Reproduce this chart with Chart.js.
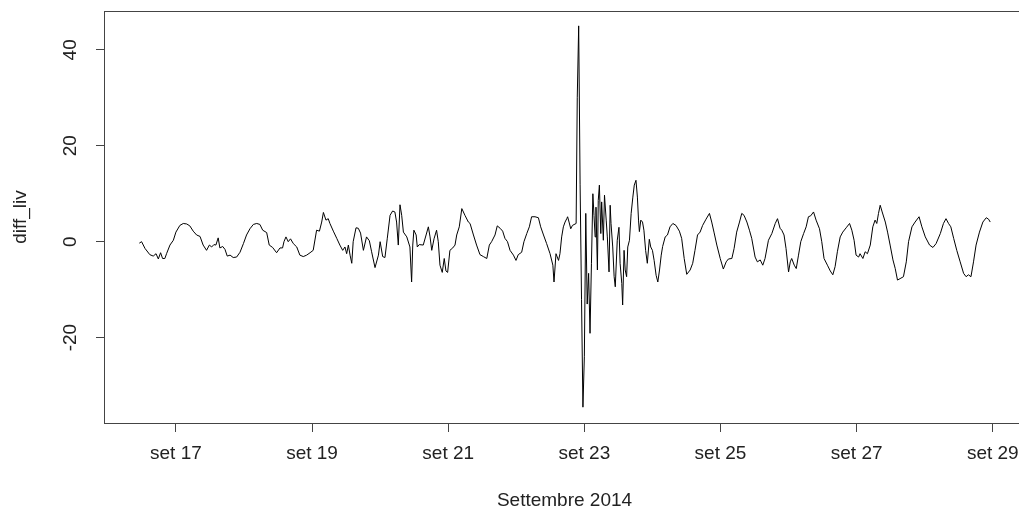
<!DOCTYPE html>
<html><head><meta charset="utf-8">
<script src="https://cdn.jsdelivr.net/npm/chart.js@4.4.1/dist/chart.umd.min.js"></script>
<style>
html,body{margin:0;padding:0;background:#fff;overflow:hidden;}
#wrap{width:1040px;height:512px;}
</style></head><body>
<div id="wrap"><canvas id="c" width="1040" height="512"></canvas></div>
<script>
// hours since 16 Sep 2014 00:00
const hours = [11.1,11.9,13.1,14.8,16.0,17.0,17.8,18.6,19.3,20.1,20.7,21.9,23.1,24.0,25.4,26.6,27.8,28.9,30.1,31.3,32.5,33.6,34.8,35.8,36.6,37.4,38.1,38.9,39.5,40.5,41.3,42.1,43.1,44.2,45.4,46.6,47.8,48.9,50.1,51.3,52.5,53.6,54.6,56.0,56.9,58.1,59.5,60.7,61.6,62.1,62.8,63.6,64.4,65.4,66.6,67.7,68.9,70.1,71.3,72.4,73.6,74.6,75.4,76.0,76.9,77.7,78.3,79.5,80.7,81.8,82.8,83.6,84.2,84.8,85.4,86.0,86.5,87.5,88.3,89.1,90.1,91.2,92.2,93.0,94.2,95.4,96.0,96.9,97.7,98.5,99.5,100.4,101.2,101.8,102.4,103.0,103.6,104.2,105.4,106.5,107.1,107.5,107.9,108.7,109.1,109.8,111.2,112.2,113.0,113.6,114.2,115.0,115.9,116.5,117.1,117.9,118.6,119.2,119.8,120.6,121.6,122.4,123.0,123.9,124.8,125.9,127.1,127.7,128.9,130.0,131.2,132.4,133.6,134.5,135.3,136.5,137.3,138.3,139.2,140.0,140.9,141.8,143.0,143.9,144.7,145.9,146.7,147.7,148.6,149.4,150.6,151.8,152.6,153.6,154.7,155.9,156.9,157.3,158.0,158.9,159.4,160.0,160.6,161.2,161.8,162.1,162.6,163.2,163.8,165.1,165.5,166.0,166.5,167.0,167.5,168.0,168.5,169.0,169.5,170.0,170.5,171.0,171.4,171.8,172.1,172.6,172.9,173.3,173.8,174.1,174.7,175.1,175.7,176.1,176.7,177.1,177.4,178.0,178.5,178.9,179.6,180.2,180.6,181.2,181.5,182.0,182.4,182.9,183.3,183.9,184.5,185.1,185.6,186.2,186.7,187.1,187.4,187.9,188.5,189.0,189.6,190.2,190.9,191.4,192.0,192.6,193.3,193.9,194.5,195.1,195.6,196.5,197.3,198.2,199.2,200.3,201.5,202.3,203.2,204.1,205.3,206.2,207.0,207.9,208.8,209.7,210.9,212.1,212.9,213.7,214.7,215.9,217.0,218.0,218.8,220.0,220.8,221.7,222.7,223.5,224.3,225.3,226.2,227.0,228.2,229.0,230.0,230.9,231.7,232.9,234.1,235.3,236.1,237.0,237.6,238.4,239.1,240.0,240.6,241.1,242.0,242.7,243.5,244.3,245.3,246.2,247.0,247.8,248.8,249.7,250.9,251.7,252.5,253.7,254.7,255.6,256.4,257.2,258.2,259.1,260.3,261.5,262.3,263.1,263.8,264.7,265.2,266.2,267.0,267.8,268.8,269.7,270.5,271.1,271.7,272.3,273.0,274.1,274.9,275.8,276.8,277.6,278.4,279.3,280.5,281.5,282.3,283.5,284.6,286.0,287.0,288.2,289.7,290.9,292.0,293.5,294.6,295.5,296.4,297.2,298.2,299.3,300.5,301.7,302.6,303.4,304.3,305.2,306.1,307.3,308.5,309.7,310.5,311.1];
const diffLiv = [-0.3,0.0,-1.4,-2.7,-3.0,-2.5,-3.6,-2.3,-3.5,-3.5,-2.5,-0.7,0.3,2.0,3.4,3.8,3.7,3.3,2.2,1.4,1.1,-0.7,-1.8,-0.7,-1.1,-0.6,-0.7,0.8,-1.3,-1.0,-1.6,-3.0,-2.8,-3.3,-3.2,-2.2,-0.4,1.4,2.7,3.6,3.8,3.6,2.4,1.9,-0.7,-1.2,-2.3,-1.3,-1.3,0.0,1.0,0.0,0.6,-0.4,-1.1,-2.8,-3.1,-2.8,-2.3,-1.8,2.4,2.2,4.1,6.1,4.5,4.8,3.8,2.2,0.7,-0.7,-1.8,-1.1,-2.5,-0.7,-2.8,-4.5,0.0,2.9,2.8,1.8,-1.8,1.0,0.2,-2.1,-5.4,-2.8,0.0,-3.1,-3.3,0.6,5.5,6.4,6.2,4.1,-0.7,7.7,5.5,2.0,1.0,-1.1,-8.4,-0.7,2.4,1.4,-1.1,-0.6,-0.7,1.4,3.1,1.0,-1.8,0.6,2.4,0.0,-4.9,-6.4,-3.5,-6.1,-6.4,-1.8,-1.3,-0.7,1.4,3.1,6.9,5.5,4.1,3.8,1.4,-0.7,-2.7,-3.1,-3.5,-0.7,0.0,1.4,3.3,2.8,2.2,0.7,0.0,-1.8,-2.8,-3.9,-2.7,-2.2,0.0,1.7,3.1,5.2,5.2,5.0,3.1,1.4,-0.4,-2.5,-4.9,-8.4,-2.5,-3.9,-2.5,1.0,3.1,4.1,4.8,5.2,4.1,2.7,3.4,3.8,30.0,45.0,12.0,-12.0,-34.5,-24.0,5.9,-13.0,-6.6,-19.1,-4.5,10.0,5.5,1.0,7.2,-5.9,8.6,11.8,1.7,8.3,0.3,9.7,4.5,1.0,-6.3,7.6,3.8,-1.1,-7.3,-9.4,0.3,3.0,-4.5,-8.7,-13.2,-1.8,-5.9,-7.3,-1.1,0.3,5.9,9.3,11.8,12.8,9.3,4.5,2.1,4.5,4.1,2.4,-1.8,-4.5,0.5,-1.1,-1.8,-3.9,-7.0,-8.4,-5.9,-2.8,-1.0,1.0,1.4,3.1,3.8,3.4,2.2,0.7,-3.5,-6.8,-5.9,-4.5,-1.8,1.4,2.0,3.4,4.7,5.9,4.1,2.0,-0.7,-3.5,-5.7,-4.2,-3.6,-3.5,-1.4,2.0,4.1,5.9,5.5,4.1,2.4,0.7,-3.2,-4.2,-3.8,-4.9,-3.5,0.3,1.7,3.8,4.8,2.8,2.4,1.4,-1.4,-6.3,-4.2,-3.5,-4.9,-5.6,-2.8,0.0,1.7,3.1,5.2,5.4,6.2,4.5,2.7,0.0,-3.5,-4.9,-6.1,-6.9,-5.2,-2.1,1.0,2.0,2.9,3.8,2.4,0.3,-2.8,-3.2,-2.5,-3.5,-2.1,-2.5,-0.7,3.1,4.5,3.8,5.9,7.6,6.2,4.1,2.0,-0.7,-3.8,-5.6,-8.0,-7.7,-7.3,-4.2,0.0,3.1,4.1,5.2,3.1,1.0,-0.7,-1.2,-0.4,1.7,3.8,4.8,3.8,3.1,0.7,-1.8,-4.2,-6.6,-7.3,-6.9,-7.3,-4.2,-0.7,2.0,4.1,5.0,4.7,4.1];
const xTickHours = [24,72,120,168,216,264,312];
const xTickLabels = ['set 17','set 19','set 21','set 23','set 25','set 27','set 29'];
const yTicks = [-20,0,20,40];
const xTitle = 'Settembre 2014';
const yTitle = 'diff_liv';

const FONT = {family:"'Liberation Sans', Arial, sans-serif", size:19};
const TXT = '#222';
const LINE = '#444';

const points = hours.map((h,i)=>({x:h,y:diffLiv[i]}));

const boxPlugin = {
  id:'box',
  afterDraw(chart){
    const {ctx, chartArea:a} = chart;
    ctx.save();
    ctx.strokeStyle = LINE; ctx.lineWidth = 1;
    ctx.strokeRect(Math.round(a.left)-0.5, Math.round(a.top)+0.5, Math.round(a.right-a.left), Math.round(a.bottom-a.top));
    ctx.restore();
  }
};

new Chart(document.getElementById('c'), {
  type:'line',
  data:{datasets:[{data:points, borderColor:'#000', borderWidth:1, pointRadius:0, tension:0, fill:false}]},
  options:{
    responsive:false, animation:false, devicePixelRatio:1,
    layout:{padding:{top:11,right:16,bottom:0,left:0}},
    plugins:{legend:{display:false}, tooltip:{enabled:false}},
    scales:{
      x:{type:'linear', min:-1, max:323,
        afterBuildTicks(s){ s.ticks = xTickHours.map(v=>({value:v})); },
        ticks:{callback:(v,i)=>xTickLabels[i], font:FONT, color:TXT, padding:10, maxRotation:0, minRotation:0, autoSkip:false},
        grid:{drawOnChartArea:false, drawTicks:true, tickLength:9, color:LINE},
        border:{display:false},
        title:{display:true, text:xTitle, font:FONT, color:TXT, padding:{top:0,bottom:0}},
        afterFit(s){ s.height = 89; s.paddingLeft = 0; s.paddingRight = 0; }
      },
      y:{type:'linear', min:-37.8, max:48.1,
        afterBuildTicks(s){ s.ticks = yTicks.map(v=>({value:v})); },
        ticks:{callback:(v)=>String(v), font:FONT, color:TXT, minRotation:90, maxRotation:90, crossAlign:'center', padding:12},
        grid:{drawOnChartArea:false, drawTicks:true, tickLength:9, color:LINE},
        border:{display:false},
        title:{display:true, text:yTitle, font:FONT, color:TXT, padding:{top:9,bottom:0}},
        afterFit(s){ s.width = 105; s.paddingTop = 0; s.paddingBottom = 0; }
      }
    }
  },
  plugins:[boxPlugin]
});
</script>
</body></html>
